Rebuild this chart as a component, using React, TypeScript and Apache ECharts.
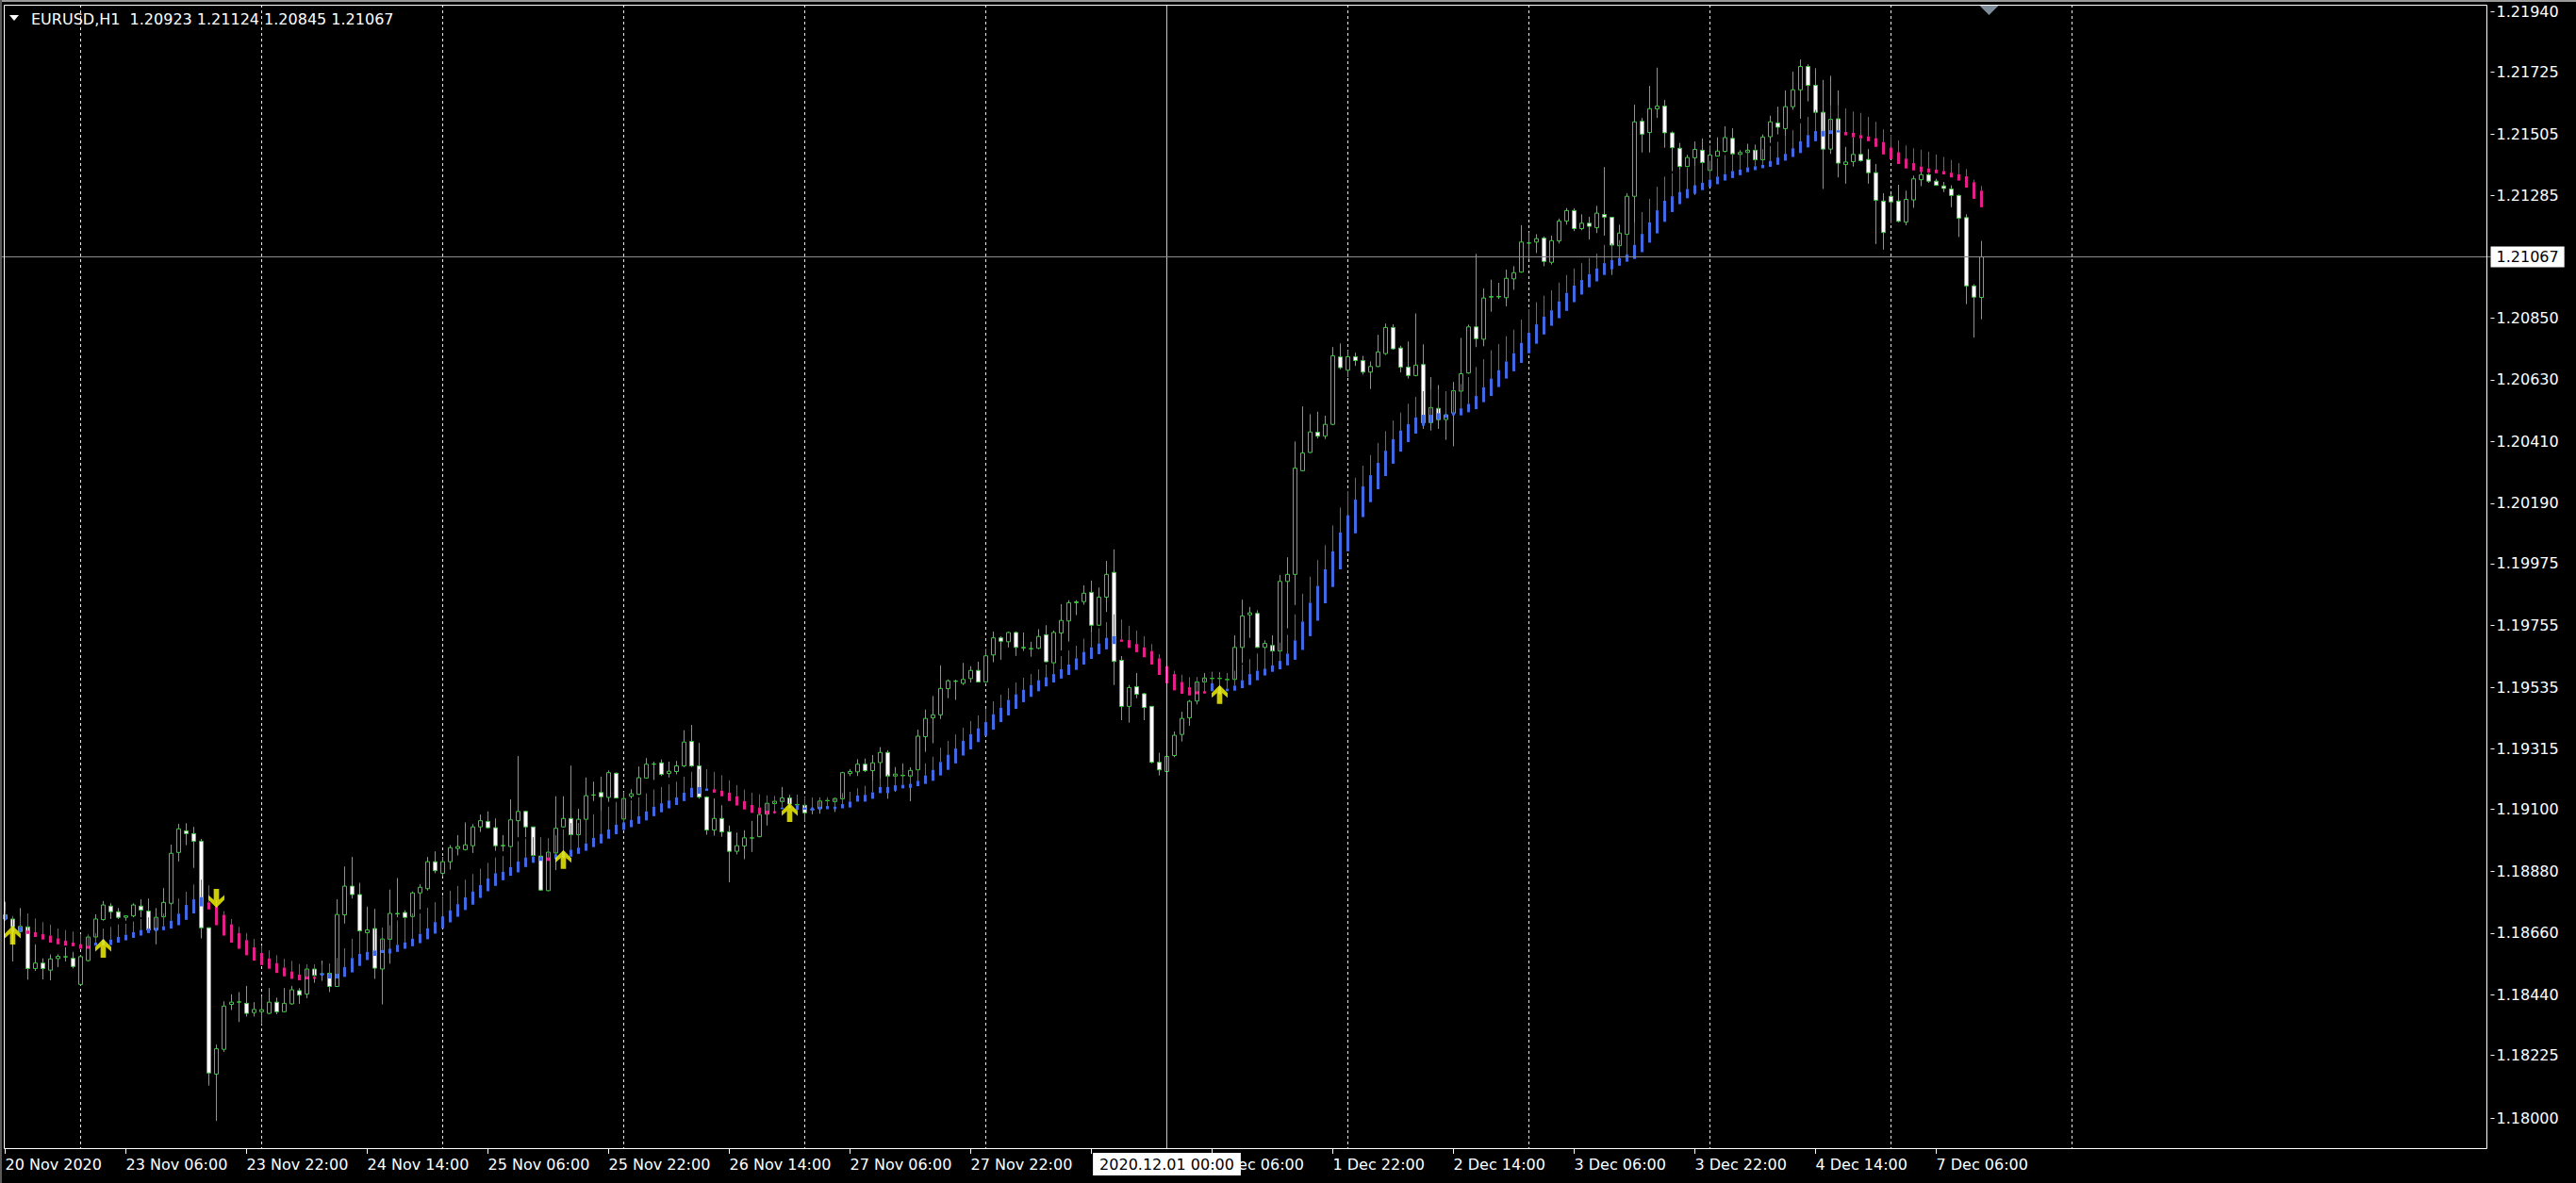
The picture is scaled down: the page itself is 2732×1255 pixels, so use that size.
import React, { useEffect, useRef } from 'react';
import * as echarts from 'echarts';

// ---------- data ----------
const SYMBOL = 'EURUSD';
const PERIOD = 'H1';
const TRADING_DAYS = ['2020.11.20', '2020.11.23', '2020.11.24', '2020.11.25', '2020.11.26', '2020.11.27', '2020.11.30', '2020.12.01', '2020.12.02', '2020.12.03', '2020.12.04', '2020.12.07', '2020.12.08', '2020.12.09', '2020.12.10'];
const FIRST_HOUR = 14;
const SLOT_COUNT = 330;
const X_TICK_STEP = 16;
// the 30 Nov 14:00 label is hidden under the highlighted time box in the reference
const X_TICK_LABELS = ['20 Nov 2020', '23 Nov 06:00', '23 Nov 22:00', '24 Nov 14:00', '25 Nov 06:00', '25 Nov 22:00', '26 Nov 14:00', '27 Nov 06:00', '27 Nov 22:00', '', '1 Dec 06:00', '1 Dec 22:00', '2 Dec 14:00', '3 Dec 06:00', '3 Dec 22:00', '4 Dec 14:00', '7 Dec 06:00'];
const DAY_SEPARATORS = ['2020.11.23 00:00', '2020.11.24 00:00', '2020.11.25 00:00', '2020.11.26 00:00', '2020.11.27 00:00', '2020.11.30 00:00', '2020.12.01 00:00', '2020.12.02 00:00', '2020.12.03 00:00', '2020.12.04 00:00', '2020.12.07 00:00', '2020.12.08 00:00'];
const MARKED_TIME = '2020.12.01 00:00';
const Y_TICKS = [1.18000, 1.18225, 1.18440, 1.18660, 1.18880, 1.19100, 1.19315, 1.19535, 1.19755, 1.19975, 1.20190, 1.20410, 1.20630, 1.20850, 1.21285, 1.21505, 1.21725, 1.21940];
const Y_MIN = 1.17891;
const Y_MAX = 1.21965;

const OPEN = [
  1.18710,1.18710,1.18665,1.18682,1.18534,1.18553,1.18528,1.18569,1.18575,1.18570,
  1.18477,1.18562,1.18646,1.18708,1.18756,1.18736,1.18716,1.18721,1.18756,1.18738,
  1.18671,1.18718,1.18766,1.18947,1.19024,1.19014,1.18987,1.18679,1.18158,1.18246,
  1.18406,1.18414,1.18410,1.18377,1.18380,1.18374,1.18414,1.18380,1.18408,1.18455,
  1.18443,1.18532,1.18514,1.18517,1.18470,1.18725,1.18827,1.18797,1.18661,1.18676,
  1.18532,1.18638,1.18728,1.18733,1.18719,1.18803,1.18818,1.18914,1.18873,1.18914,
  1.18961,1.18957,1.18971,1.19038,1.19057,1.19035,1.18972,1.18968,1.19060,1.19093,
  1.19038,1.18934,1.18811,1.18945,1.19038,1.19068,1.19010,1.19065,1.19151,1.19160,
  1.19143,1.19229,1.19066,1.19147,1.19154,1.19212,1.19261,1.19266,1.19228,1.19235,
  1.19255,1.19342,1.19255,1.19144,1.19027,1.19068,1.19020,1.18951,1.18970,1.18998,
  1.19003,1.19083,1.19121,1.19128,1.19141,1.19116,1.19115,1.19099,1.19103,1.19131,
  1.19128,1.19138,1.19228,1.19234,1.19261,1.19238,1.19267,1.19303,1.19219,1.19220,
  1.19219,1.19241,1.19359,1.19426,1.19437,1.19530,1.19556,1.19549,1.19566,1.19595,
  1.19554,1.19650,1.19711,1.19697,1.19730,1.19675,1.19672,1.19674,1.19722,1.19622,
  1.19728,1.19771,1.19836,1.19840,1.19873,1.19756,1.19856,1.19944,1.19631,1.19467,
  1.19537,1.19512,1.19467,1.19268,1.19235,1.19292,1.19367,1.19426,1.19486,1.19554,
  1.19566,1.19566,1.19562,1.19563,1.19677,1.19793,1.19798,1.19677,1.19684,1.19664,
  1.19912,1.19937,1.20306,1.20371,1.20443,1.20429,1.20471,1.20711,1.20664,1.20712,
  1.20698,1.20657,1.20677,1.20723,1.20816,1.20743,1.20675,1.20645,1.20684,1.20477,
  1.20528,1.20488,1.20511,1.20589,1.20654,1.20818,1.20774,1.20924,1.20926,1.20922,
  1.20989,1.21013,1.21116,1.21120,1.21134,1.21048,1.21124,1.21195,1.21232,1.21168,
  1.21187,1.21171,1.21218,1.21208,1.21107,1.21148,1.21283,1.21550,1.21510,1.21594,
  1.21604,1.21509,1.21454,1.21389,1.21420,1.21447,1.21375,1.21426,1.21443,1.21489,
  1.21432,1.21439,1.21447,1.21413,1.21495,1.21544,1.21524,1.21602,1.21662,1.21745,
  1.21678,1.21582,1.21451,1.21559,1.21396,1.21406,1.21432,1.21414,1.21367,1.21266,
  1.21283,1.21266,1.21191,1.21270,1.21342,1.21360,1.21337,1.21320,1.21309,1.21286,
  1.21207,1.20964,1.20923
];
const HIGH = [
  1.18772,1.18716,1.18749,1.18729,1.18620,1.18570,1.18584,1.18584,1.18609,1.18593,
  1.18581,1.18654,1.18727,1.18774,1.18766,1.18749,1.18722,1.18766,1.18780,1.18783,
  1.18749,1.18820,1.18975,1.19049,1.19051,1.19038,1.18995,1.18679,1.18263,1.18417,
  1.18442,1.18450,1.18472,1.18414,1.18436,1.18464,1.18430,1.18464,1.18472,1.18464,
  1.18548,1.18548,1.18562,1.18551,1.18780,1.18897,1.18931,1.18839,1.18754,1.18746,
  1.18676,1.18815,1.18856,1.18741,1.18808,1.18834,1.18931,1.18951,1.18931,1.18973,
  1.19009,1.19054,1.19048,1.19082,1.19093,1.19068,1.19009,1.19136,1.19290,1.19096,
  1.19038,1.18940,1.18951,1.19147,1.19147,1.19256,1.19102,1.19214,1.19199,1.19217,
  1.19239,1.19231,1.19163,1.19172,1.19253,1.19283,1.19270,1.19278,1.19270,1.19273,
  1.19382,1.19401,1.19337,1.19147,1.19139,1.19115,1.19043,1.19018,1.19026,1.19059,
  1.19105,1.19150,1.19130,1.19180,1.19152,1.19152,1.19147,1.19141,1.19143,1.19143,
  1.19143,1.19234,1.19244,1.19279,1.19281,1.19294,1.19322,1.19311,1.19251,1.19264,
  1.19250,1.19384,1.19456,1.19504,1.19613,1.19563,1.19562,1.19622,1.19610,1.19626,
  1.19672,1.19733,1.19717,1.19733,1.19733,1.19730,1.19697,1.19742,1.19756,1.19737,
  1.19831,1.19845,1.19845,1.19898,1.19915,1.19890,1.19985,1.20026,1.19646,1.19543,
  1.19586,1.19515,1.19468,1.19302,1.19292,1.19378,1.19448,1.19490,1.19571,1.19586,
  1.19590,1.19588,1.19585,1.19720,1.19847,1.19821,1.19809,1.19702,1.19720,1.19935,
  1.19998,1.20410,1.20535,1.20507,1.20516,1.20502,1.20746,1.20759,1.20735,1.20726,
  1.20715,1.20695,1.20790,1.20830,1.20827,1.20751,1.20766,1.20866,1.20756,1.20639,
  1.20611,1.20589,1.20622,1.20779,1.20826,1.21078,1.20955,1.20986,1.20975,1.21022,
  1.21034,1.21180,1.21154,1.21148,1.21140,1.21143,1.21204,1.21241,1.21240,1.21219,
  1.21210,1.21249,1.21387,1.21210,1.21182,1.21294,1.21609,1.21562,1.21676,1.21741,
  1.21626,1.21514,1.21473,1.21431,1.21478,1.21489,1.21464,1.21493,1.21532,1.21525,
  1.21447,1.21470,1.21467,1.21503,1.21570,1.21602,1.21660,1.21727,1.21770,1.21753,
  1.21739,1.21697,1.21712,1.21660,1.21459,1.21492,1.21488,1.21451,1.21398,1.21294,
  1.21291,1.21324,1.21303,1.21356,1.21373,1.21365,1.21345,1.21334,1.21322,1.21289,
  1.21219,1.20970,1.21124
];
const LOW = [
  1.18704,1.18559,1.18662,1.18494,1.18525,1.18495,1.18492,1.18539,1.18559,1.18534,
  1.18474,1.18559,1.18637,1.18704,1.18710,1.18710,1.18704,1.18716,1.18716,1.18665,
  1.18620,1.18704,1.18760,1.18915,1.18973,1.18892,1.18641,1.18117,1.17991,1.18237,
  1.18386,1.18343,1.18363,1.18363,1.18335,1.18371,1.18371,1.18378,1.18405,1.18408,
  1.18428,1.18483,1.18490,1.18450,1.18468,1.18694,1.18783,1.18666,1.18660,1.18497,
  1.18406,1.18551,1.18716,1.18714,1.18716,1.18744,1.18811,1.18873,1.18862,1.18886,
  1.18936,1.18954,1.18945,1.19020,1.19032,1.18953,1.18951,1.18964,1.19001,1.19001,
  1.18934,1.18811,1.18809,1.18884,1.19035,1.19009,1.19007,1.19063,1.19130,1.19096,
  1.19127,1.19139,1.19029,1.19139,1.19152,1.19210,1.19205,1.19219,1.19214,1.19225,
  1.19251,1.19251,1.19138,1.19010,1.19007,1.19003,1.18841,1.18940,1.18923,1.18949,
  1.19001,1.19043,1.19085,1.19124,1.19113,1.19096,1.19057,1.19083,1.19085,1.19107,
  1.19091,1.19132,1.19219,1.19219,1.19233,1.19191,1.19210,1.19138,1.19163,1.19208,
  1.19129,1.19239,1.19305,1.19336,1.19422,1.19496,1.19490,1.19543,1.19552,1.19552,
  1.19554,1.19624,1.19633,1.19677,1.19647,1.19664,1.19644,1.19671,1.19624,1.19619,
  1.19666,1.19698,1.19792,1.19829,1.19728,1.19754,1.19803,1.19543,1.19418,1.19409,
  1.19496,1.19418,1.19264,1.19221,1.19232,1.19286,1.19342,1.19398,1.19474,1.19514,
  1.19525,1.19543,1.19532,1.19560,1.19621,1.19711,1.19675,1.19588,1.19661,1.19661,
  1.19745,1.19828,1.20304,1.20369,1.20421,1.20419,1.20468,1.20667,1.20639,1.20679,
  1.20648,1.20597,1.20675,1.20718,1.20737,1.20656,1.20634,1.20642,1.20455,1.20449,
  1.20455,1.20416,1.20393,1.20586,1.20651,1.20746,1.20749,1.20872,1.20917,1.20891,
  1.20950,1.21011,1.21059,1.21081,1.21034,1.21040,1.21115,1.21182,1.21159,1.21162,
  1.21129,1.21152,1.21143,1.21003,1.21036,1.21143,1.21187,1.21439,1.21439,1.21562,
  1.21456,1.21372,1.21271,1.21387,1.21288,1.21355,1.21366,1.21425,1.21439,1.21431,
  1.21431,1.21422,1.21411,1.21411,1.21473,1.21503,1.21496,1.21591,1.21559,1.21621,
  1.21481,1.21309,1.21434,1.21350,1.21328,1.21389,1.21406,1.21328,1.21113,1.21093,
  1.21188,1.21190,1.21180,1.21242,1.21319,1.21331,1.21320,1.21298,1.21244,1.21138,
  1.20899,1.20780,1.20845
];
const CLOSE = [
  1.18725,1.18682,1.18684,1.18534,1.18553,1.18534,1.18568,1.18577,1.18576,1.18541,
  1.18576,1.18646,1.18710,1.18760,1.18736,1.18716,1.18721,1.18760,1.18742,1.18671,
  1.18716,1.18769,1.18944,1.19031,1.19014,1.18987,1.18679,1.18162,1.18248,1.18400,
  1.18414,1.18415,1.18374,1.18388,1.18387,1.18414,1.18380,1.18410,1.18458,1.18439,
  1.18532,1.18509,1.18515,1.18470,1.18726,1.18827,1.18797,1.18668,1.18671,1.18535,
  1.18639,1.18730,1.18730,1.18716,1.18803,1.18823,1.18914,1.18882,1.18914,1.18964,
  1.18968,1.18974,1.19038,1.19060,1.19035,1.18971,1.18971,1.19063,1.19093,1.19038,
  1.18936,1.18813,1.18948,1.19033,1.19068,1.19010,1.19065,1.19149,1.19152,1.19145,
  1.19231,1.19141,1.19139,1.19156,1.19213,1.19261,1.19262,1.19225,1.19236,1.19255,
  1.19340,1.19255,1.19144,1.19027,1.19068,1.19020,1.18951,1.18971,1.18999,1.18999,
  1.19082,1.19122,1.19129,1.19141,1.19119,1.19118,1.19088,1.19100,1.19130,1.19132,
  1.19139,1.19231,1.19235,1.19261,1.19238,1.19266,1.19303,1.19219,1.19226,1.19222,
  1.19239,1.19361,1.19424,1.19437,1.19531,1.19558,1.19557,1.19563,1.19595,1.19554,
  1.19647,1.19711,1.19699,1.19730,1.19677,1.19677,1.19673,1.19716,1.19626,1.19730,
  1.19773,1.19836,1.19839,1.19870,1.19756,1.19856,1.19937,1.19627,1.19467,1.19534,
  1.19510,1.19463,1.19268,1.19241,1.19289,1.19364,1.19424,1.19485,1.19554,1.19568,
  1.19567,1.19567,1.19563,1.19677,1.19789,1.19800,1.19677,1.19691,1.19664,1.19912,
  1.19937,1.20315,1.20369,1.20444,1.20429,1.20471,1.20715,1.20673,1.20712,1.20698,
  1.20657,1.20677,1.20729,1.20816,1.20740,1.20675,1.20645,1.20682,1.20477,1.20531,
  1.20488,1.20505,1.20591,1.20651,1.20818,1.20776,1.20921,1.20926,1.20925,1.20991,
  1.21011,1.21120,1.21117,1.21132,1.21051,1.21125,1.21195,1.21232,1.21168,1.21187,
  1.21176,1.21223,1.21209,1.21109,1.21152,1.21283,1.21548,1.21504,1.21595,1.21604,
  1.21509,1.21456,1.21389,1.21421,1.21450,1.21403,1.21430,1.21444,1.21492,1.21434,
  1.21439,1.21447,1.21413,1.21494,1.21548,1.21529,1.21602,1.21662,1.21745,1.21678,
  1.21582,1.21451,1.21557,1.21401,1.21405,1.21432,1.21410,1.21367,1.21269,1.21154,
  1.21263,1.21194,1.21272,1.21345,1.21360,1.21337,1.21322,1.21311,1.21286,1.21205,
  1.20964,1.20924,1.21067
];

// trend indicator: upper end of the thin stem, top of the thick block, bottom of the thick block
const IND_UPPER = [
  1.18738,1.18721,1.18721,1.18727,1.18712,1.18699,1.18690,1.18676,1.18671,1.18665,
  1.18656,1.18654,1.18660,1.18676,1.18682,1.18691,1.18693,1.18701,1.18710,1.18716,
  1.18716,1.18729,1.18760,1.18783,1.18807,1.18833,1.18850,1.18830,1.18777,1.18738,
  1.18710,1.18682,1.18660,1.18639,1.18615,1.18598,1.18581,1.18568,1.18561,1.18550,
  1.18548,1.18548,1.18548,1.18548,1.18571,1.18606,1.18640,1.18666,1.18660,1.18677,
  1.18680,1.18688,1.18705,1.18716,1.18730,1.18730,1.18750,1.18770,1.18791,1.18811,
  1.18828,1.18850,1.18870,1.18889,1.18910,1.18929,1.18934,1.18962,1.18987,1.18996,
  1.19001,1.19001,1.18998,1.19009,1.19029,1.19052,1.19052,1.19063,1.19083,1.19096,
  1.19110,1.19127,1.19141,1.19133,1.19143,1.19157,1.19171,1.19180,1.19189,1.19199,
  1.19217,1.19234,1.19244,1.19244,1.19234,1.19222,1.19204,1.19187,1.19171,1.19160,
  1.19154,1.19150,1.19148,1.19135,1.19141,1.19149,1.19143,1.19143,1.19141,1.19143,
  1.19141,1.19158,1.19163,1.19175,1.19184,1.19203,1.19210,1.19225,1.19231,1.19239,
  1.19224,1.19241,1.19264,1.19288,1.19320,1.19344,1.19367,1.19391,1.19415,1.19435,
  1.19459,1.19485,1.19509,1.19532,1.19552,1.19569,1.19582,1.19599,1.19616,1.19624,
  1.19646,1.19666,1.19683,1.19708,1.19727,1.19745,1.19767,1.19795,1.19776,1.19754,
  1.19737,1.19717,1.19689,1.19653,1.19616,1.19594,1.19580,1.19571,1.19571,1.19568,
  1.19588,1.19582,1.19582,1.19594,1.19616,1.19635,1.19655,1.19674,1.19689,1.19694,
  1.19722,1.19795,1.19868,1.19929,1.19988,1.20041,1.20111,1.20175,1.20234,1.20281,
  1.20324,1.20362,1.20405,1.20447,1.20485,1.20513,1.20544,1.20569,1.20589,1.20595,
  1.20595,1.20589,1.20595,1.20615,1.20639,1.20675,1.20703,1.20735,1.20757,1.20785,
  1.20808,1.20844,1.20881,1.20906,1.20929,1.20948,1.20976,1.21003,1.21026,1.21045,
  1.21063,1.21079,1.21110,1.21116,1.21127,1.21149,1.21188,1.21227,1.21274,1.21317,
  1.21353,1.21365,1.21378,1.21384,1.21392,1.21406,1.21410,1.21418,1.21429,1.21437,
  1.21437,1.21446,1.21452,1.21451,1.21462,1.21477,1.21495,1.21518,1.21543,1.21566,
  1.21591,1.21580,1.21608,1.21608,1.21596,1.21585,1.21580,1.21566,1.21548,1.21521,
  1.21501,1.21482,1.21464,1.21454,1.21449,1.21442,1.21432,1.21423,1.21412,1.21401,
  1.21380,1.21342,1.21320
];
const IND_MID = [
  1.18725,1.18680,1.18682,1.18669,1.18663,1.18656,1.18651,1.18641,1.18633,1.18626,
  1.18620,1.18615,1.18626,1.18637,1.18637,1.18646,1.18654,1.18663,1.18671,1.18676,
  1.18679,1.18684,1.18704,1.18729,1.18760,1.18780,1.18788,1.18769,1.18755,1.18725,
  1.18691,1.18660,1.18635,1.18609,1.18589,1.18570,1.18553,1.18537,1.18523,1.18512,
  1.18506,1.18504,1.18517,1.18515,1.18515,1.18539,1.18571,1.18586,1.18593,1.18598,
  1.18600,1.18604,1.18618,1.18627,1.18640,1.18657,1.18677,1.18699,1.18719,1.18741,
  1.18763,1.18787,1.18808,1.18831,1.18854,1.18873,1.18878,1.18895,1.18915,1.18929,
  1.18932,1.18931,1.18929,1.18940,1.18951,1.18957,1.18964,1.18979,1.18999,1.19013,
  1.19029,1.19046,1.19054,1.19063,1.19076,1.19093,1.19110,1.19122,1.19132,1.19143,
  1.19160,1.19177,1.19180,1.19175,1.19172,1.19167,1.19160,1.19147,1.19130,1.19116,
  1.19107,1.19096,1.19094,1.19107,1.19113,1.19115,1.19107,1.19107,1.19110,1.19112,
  1.19110,1.19119,1.19128,1.19150,1.19152,1.19161,1.19180,1.19180,1.19186,1.19188,
  1.19191,1.19202,1.19221,1.19241,1.19269,1.19295,1.19317,1.19344,1.19368,1.19389,
  1.19411,1.19439,1.19462,1.19490,1.19510,1.19526,1.19543,1.19560,1.19571,1.19582,
  1.19599,1.19616,1.19638,1.19661,1.19677,1.19691,1.19711,1.19717,1.19705,1.19703,
  1.19689,1.19677,1.19664,1.19638,1.19610,1.19582,1.19554,1.19535,1.19521,1.19521,
  1.19549,1.19538,1.19530,1.19541,1.19560,1.19582,1.19594,1.19601,1.19613,1.19629,
  1.19655,1.19702,1.19769,1.19836,1.19896,1.19955,1.20019,1.20086,1.20147,1.20203,
  1.20250,1.20290,1.20334,1.20377,1.20418,1.20449,1.20472,1.20496,1.20505,1.20505,
  1.20511,1.20507,1.20514,1.20528,1.20544,1.20572,1.20603,1.20634,1.20664,1.20695,
  1.20724,1.20761,1.20797,1.20827,1.20855,1.20877,1.20909,1.20939,1.20965,1.20985,
  1.21006,1.21026,1.21045,1.21056,1.21063,1.21076,1.21110,1.21149,1.21190,1.21233,
  1.21267,1.21283,1.21298,1.21309,1.21322,1.21331,1.21342,1.21353,1.21362,1.21373,
  1.21378,1.21386,1.21390,1.21395,1.21409,1.21421,1.21434,1.21454,1.21479,1.21501,
  1.21515,1.21516,1.21518,1.21518,1.21512,1.21509,1.21501,1.21496,1.21490,1.21476,
  1.21456,1.21440,1.21417,1.21401,1.21389,1.21382,1.21378,1.21373,1.21367,1.21361,
  1.21354,1.21333,1.21303
];
const IND_LOWER = [
  1.18707,1.18665,1.18665,1.18657,1.18646,1.18637,1.18626,1.18620,1.18615,1.18613,
  1.18604,1.18604,1.18615,1.18617,1.18617,1.18626,1.18634,1.18643,1.18651,1.18660,
  1.18667,1.18670,1.18676,1.18688,1.18707,1.18730,1.18755,1.18744,1.18688,1.18651,
  1.18626,1.18604,1.18581,1.18562,1.18546,1.18533,1.18518,1.18506,1.18497,1.18492,
  1.18495,1.18497,1.18508,1.18498,1.18498,1.18504,1.18520,1.18543,1.18564,1.18579,
  1.18589,1.18587,1.18593,1.18604,1.18613,1.18624,1.18638,1.18658,1.18677,1.18698,
  1.18718,1.18742,1.18761,1.18785,1.18809,1.18828,1.18848,1.18864,1.18876,1.18895,
  1.18910,1.18917,1.18917,1.18923,1.18929,1.18932,1.18942,1.18953,1.18966,1.18979,
  1.18996,1.19012,1.19027,1.19037,1.19049,1.19061,1.19076,1.19090,1.19104,1.19116,
  1.19130,1.19143,1.19156,1.19166,1.19160,1.19147,1.19130,1.19114,1.19100,1.19088,
  1.19085,1.19083,1.19087,1.19101,1.19105,1.19099,1.19099,1.19096,1.19099,1.19101,
  1.19101,1.19104,1.19107,1.19128,1.19128,1.19138,1.19158,1.19158,1.19167,1.19175,
  1.19177,1.19183,1.19191,1.19202,1.19221,1.19241,1.19264,1.19292,1.19314,1.19340,
  1.19362,1.19384,1.19411,1.19435,1.19458,1.19482,1.19501,1.19521,1.19538,1.19552,
  1.19566,1.19579,1.19597,1.19616,1.19636,1.19653,1.19670,1.19689,1.19697,1.19675,
  1.19660,1.19642,1.19616,1.19579,1.19549,1.19524,1.19512,1.19506,1.19510,1.19513,
  1.19521,1.19510,1.19521,1.19523,1.19532,1.19543,1.19560,1.19577,1.19590,1.19599,
  1.19613,1.19633,1.19668,1.19717,1.19772,1.19834,1.19892,1.19955,1.20019,1.20083,
  1.20141,1.20194,1.20240,1.20287,1.20331,1.20374,1.20408,1.20438,1.20466,1.20477,
  1.20488,1.20494,1.20503,1.20503,1.20514,1.20525,1.20550,1.20572,1.20604,1.20634,
  1.20660,1.20690,1.20724,1.20758,1.20791,1.20822,1.20849,1.20875,1.20906,1.20933,
  1.20959,1.20980,1.21003,1.21023,1.21036,1.21050,1.21060,1.21084,1.21118,1.21151,
  1.21192,1.21227,1.21255,1.21276,1.21292,1.21305,1.21316,1.21326,1.21339,1.21348,
  1.21358,1.21369,1.21376,1.21383,1.21388,1.21395,1.21410,1.21423,1.21437,1.21457,
  1.21479,1.21496,1.21505,1.21510,1.21500,1.21493,1.21489,1.21479,1.21459,1.21432,
  1.21415,1.21398,1.21382,1.21375,1.21370,1.21367,1.21365,1.21361,1.21350,1.21339,
  1.21314,1.21274,1.21244
];
// runs of trend colour: [direction, number of bars]
const TREND_RUNS: [string, number][] = [['up', 3], ['down', 9], ['up', 15], ['down', 15], ['up', 30], ['down', 1], ['up', 21], ['down', 9], ['up', 45], ['down', 12], ['up', 84], ['down', 19]];
// yellow signal arrows: [bar index, price]
const SIGNAL_UP: [number, number][] = [[1, 1.18653], [13, 1.18606], [74, 1.18922], [104, 1.19089], [161, 1.19509]];
const SIGNAL_DOWN: [number, number][] = [[28, 1.18784]];

// ---------- styles ----------
const FONT = '"DejaVu Sans", Verdana, sans-serif';
const GREEN = '#38d038';
const BLUE = '#4169e1';
const PINK = '#e2208a';
const YELLOW = '#ffff00';
const ARROW_PATH = 'path://M9,0 L18,8.5 L18,13.5 L12,8.5 L12,20 L6,20 L6,8.5 L0,13.5 L0,8.5 Z';

function buildCategories(): string[] {
  const out: string[] = [];
  TRADING_DAYS.forEach((d, k) => {
    for (let h = k === 0 ? FIRST_HOUR : 0; h < 24; h++) {
      out.push(`${d} ${String(h).padStart(2, '0')}:00`);
    }
  });
  return out.slice(0, SLOT_COUNT);
}

export default function App() {
  const ref = useRef<HTMLDivElement>(null);

  useEffect(() => {
    if (!ref.current) return;
    const chart = echarts.init(ref.current, null, { renderer: 'svg' });
    const categories = buildCategories();
    const trend: number[] = [];
    TREND_RUNS.forEach(([d, n]) => { for (let k = 0; k < n; k++) trend.push(d === 'up' ? 1 : -1); });

    const candleData = OPEN.map((o, i) => [o, CLOSE[i], LOW[i], HIGH[i]]);
    const indData = IND_UPPER.map((a, i) => [i, a, IND_MID[i], IND_LOWER[i], trend[i]]);
    const sepData = DAY_SEPARATORS.map((s) => [categories.indexOf(s), Y_MIN]);
    const markedIdx = categories.indexOf(MARKED_TIME);
    const last = OPEN.length - 1;
    const lastClose = CLOSE[last];
    const lastTickIdx = (X_TICK_LABELS.length - 1) * X_TICK_STEP;

    const labelStyle = { color: '#ffffff', fontSize: 16, fontFamily: FONT };

    const option: any = {
      animation: false,
      backgroundColor: '#000000',
      grid: { left: 1.5, right: 2732 - (1.5 + SLOT_COUNT * 8), top: 5, bottom: 36, containLabel: false },
      xAxis: {
        type: 'category',
        data: categories,
        boundaryGap: true,
        axisLine: { show: false },
        axisTick: {
          show: true, alignWithLabel: true, length: 5,
          interval: (idx: number) => idx % X_TICK_STEP === 0 && idx <= lastTickIdx,
          lineStyle: { color: '#ffffff', width: 1 },
        },
        axisLabel: {
          ...labelStyle,
          interval: (idx: number) => idx % X_TICK_STEP === 0 && idx <= lastTickIdx && X_TICK_LABELS[idx / X_TICK_STEP] !== '',
          formatter: (_v: string, idx: number) => X_TICK_LABELS[idx / X_TICK_STEP] ?? '',
          align: 'left',
          margin: 8,
          lineHeight: 16,
        },
        splitLine: { show: false },
      },
      yAxis: {
        type: 'value',
        position: 'right',
        min: Y_MIN,
        max: Y_MAX,
        scale: true,
        axisLine: { show: false },
        splitLine: { show: false },
        axisTick: { show: true, length: 4, customValues: Y_TICKS, lineStyle: { color: '#ffffff' } },
        axisLabel: { ...labelStyle, customValues: Y_TICKS, margin: 6, formatter: (v: number) => v.toFixed(5) },
      },
      series: [
        {
          type: 'custom',
          name: 'separators',
          z: 1,
          silent: true,
          data: sepData,
          encode: { x: 0, y: 1 },
          renderItem: (params: any, api: any) => {
            const p = api.coord([api.value(0), Y_MAX]);
            const cs = params.coordSys;
            return {
              type: 'line',
              shape: { x1: p[0], y1: cs.y, x2: p[0], y2: cs.y + cs.height },
              style: { stroke: '#e8e8e8', lineWidth: 1, lineDash: [3, 3] },
            };
          },
          markLine: {
            silent: true,
            symbol: ['none', 'none'],
            precision: 5,
            animation: false,
            data: [
              {
                name: MARKED_TIME,
                xAxis: markedIdx,
                lineStyle: { color: '#c8c8c8', type: 'solid', width: 1 },
                label: {
                  show: true, position: 'start', formatter: '{b}', distance: 4,
                  backgroundColor: '#ffffff', color: '#000000', padding: [4, 7],
                  fontSize: 16, fontFamily: FONT, lineHeight: 16,
                },
              },
              {
                yAxis: lastClose,
                lineStyle: { color: '#8c8c8c', type: 'solid', width: 1 },
                label: {
                  show: true, position: 'end', formatter: () => lastClose.toFixed(5), distance: 0,
                  backgroundColor: '#ffffff', color: '#000000', padding: [3, 6],
                  fontSize: 16, fontFamily: FONT, lineHeight: 16,
                },
              },
            ],
          },
        },
        {
          type: 'candlestick',
          name: `${SYMBOL},${PERIOD}`,
          z: 2,
          barWidth: 4,
          data: candleData,
          itemStyle: {
            color: '#000000', color0: '#ffffff',
            borderColor: GREEN, borderColor0: GREEN, borderColorDoji: GREEN, borderWidth: 1,
          },
        },
        {
          type: 'custom',
          name: 'trend',
          z: 3,
          silent: true,
          data: indData,
          encode: { x: 0, y: [1, 2, 3] },
          renderItem: (_params: any, api: any) => {
            const x = api.value(0);
            const pTop = api.coord([x, api.value(1)]);
            const pMid = api.coord([x, api.value(2)]);
            const pBot = api.coord([x, api.value(3)]);
            const color = api.value(4) > 0 ? BLUE : PINK;
            return {
              type: 'group',
              children: [
                { type: 'line', shape: { x1: pTop[0], y1: pTop[1], x2: pTop[0], y2: pMid[1] }, style: { stroke: color, lineWidth: 1 } },
                { type: 'rect', shape: { x: pMid[0] - 1.5, y: pMid[1], width: 3, height: Math.max(1, pBot[1] - pMid[1]) }, style: { fill: color } },
              ],
            };
          },
        },
        {
          type: 'scatter',
          name: 'buy',
          z: 4,
          silent: true,
          symbol: ARROW_PATH,
          symbolSize: [17, 20],
          itemStyle: { color: YELLOW },
          data: SIGNAL_UP,
        },
        {
          type: 'scatter',
          name: 'sell',
          z: 4,
          silent: true,
          symbol: ARROW_PATH,
          symbolSize: [17, 20],
          symbolRotate: 180,
          itemStyle: { color: YELLOW },
          data: SIGNAL_DOWN,
        },
      ],
    };
    chart.setOption(option);

    const shiftX = chart.convertToPixel({ xAxisIndex: 0 }, last + 1) as number;
    const title = `${SYMBOL},${PERIOD}  ${OPEN[last].toFixed(5)} ${HIGH[last].toFixed(5)} ${LOW[last].toFixed(5)} ${CLOSE[last].toFixed(5)}`;
    chart.setOption({
      graphic: {
        elements: [
          { type: 'rect', z: 0, silent: true, shape: { x: 0, y: 0, width: 2732, height: 2 }, style: { fill: '#9a9a9a' } },
          { type: 'rect', z: 0, silent: true, shape: { x: 0, y: 0, width: 2, height: 1255 }, style: { fill: '#5a5a5a' } },
          { type: 'rect', z: 10, silent: true, shape: { x: 4.5, y: 5.5, width: 2633, height: 1213 }, style: { fill: 'none', stroke: '#ffffff', lineWidth: 1 } },
          { type: 'polygon', z: 10, silent: true, shape: { points: [[10, 16], [20, 16], [15, 22]] }, style: { fill: '#ffffff' } },
          { type: 'text', z: 10, silent: true, x: 33, y: 20, style: { text: title, fill: '#ffffff', font: `16px ${FONT}`, verticalAlign: 'middle' } },
          { type: 'polygon', z: 10, silent: true, shape: { points: [[shiftX - 10, 6], [shiftX + 10, 6], [shiftX, 16]] }, style: { fill: '#7f8c99' } },
        ],
      },
    });

    return () => chart.dispose();
  }, []);

  return <div ref={ref} style={{ position: 'fixed', left: 0, top: 0, width: 2732, height: 1255, background: '#000' }} />;
}
